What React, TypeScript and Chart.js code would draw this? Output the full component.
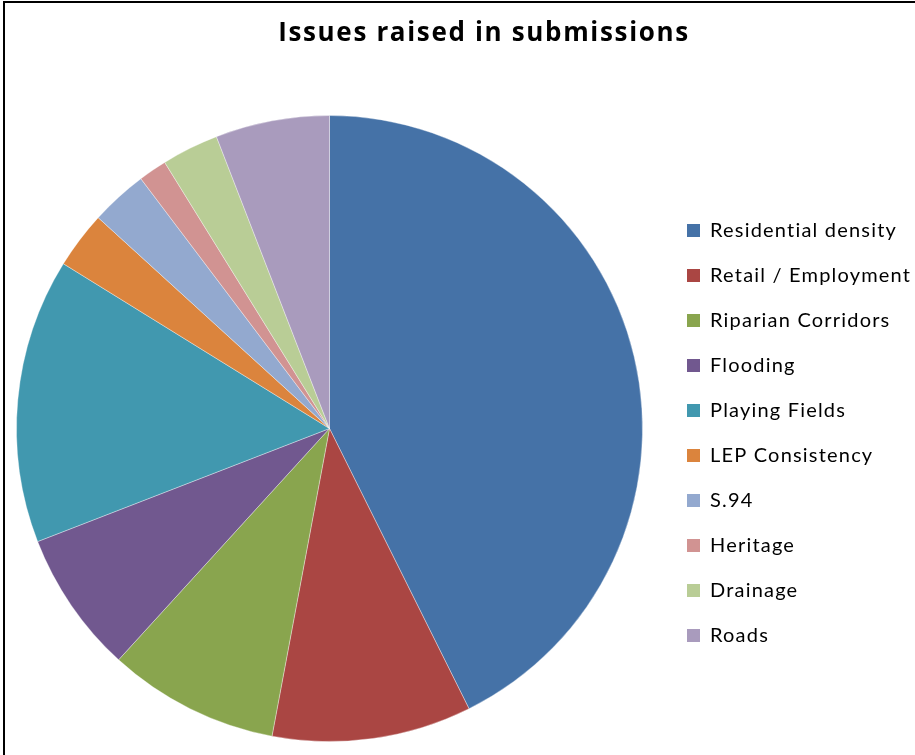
import React, { useEffect, useRef } from 'react';
import { Chart, registerables } from 'chart.js';

Chart.register(...registerables);

const TITLE = 'Issues raised in submissions';
const categories = [
  'Residential density',
  'Retail / Employment',
  'Riparian Corridors',
  'Flooding',
  'Playing Fields',
  'LEP Consistency',
  'S.94',
  'Heritage',
  'Drainage',
  'Roads',
];
const submissionCounts = [29, 7, 6, 5, 10, 2, 2, 1, 2, 4];
const sliceColors = [
  '#4572A7',
  '#AA4643',
  '#89A54E',
  '#71588F',
  '#4198AF',
  '#DB843D',
  '#93A9CF',
  '#D19392',
  '#B9CD96',
  '#A99BBD',
];

const CANVAS_LEFT = -3;
const CANVAS_W = 974;
const CANVAS_H = 755;
const LEGEND_W = 309;
const TITLE_FONT = '"Open Sans", Lato, sans-serif';
const LEGEND_FONT = 'Lato, "Open Sans", sans-serif';
const TITLE_SIZE = 26;
const LEGEND_SIZE = 20;
const TITLE_TARGET_W = 410;
const LEGEND_REF_TEXT = 'Retail / Employment';
const LEGEND_TARGET_W = 200;

function spacingFor(text: string, font: string, target: number): number {
  const c = document.createElement('canvas').getContext('2d');
  if (!c) return 0;
  c.font = font;
  const w = c.measureText(text).width;
  return Math.max(0, (target - w) / Math.max(1, text.length - 1));
}

export default function App() {
  const ref = useRef<HTMLCanvasElement>(null);

  useEffect(() => {
    let chart: Chart | null = null;
    let cancelled = false;

    const withSpacing = (obj: any, spacing: number) => {
      if (!obj || !obj.draw) return;
      const orig = obj.draw;
      obj.draw = function (...args: any[]) {
        const ctx = this.ctx;
        const prev = ctx.letterSpacing;
        ctx.letterSpacing = spacing + 'px';
        try {
          orig.apply(this, args);
        } finally {
          ctx.letterSpacing = prev || '0px';
        }
      };
    };

    const build = () => {
      if (cancelled || !ref.current) return;
      const titleSpacing = spacingFor(TITLE, `bold ${TITLE_SIZE}px ${TITLE_FONT}`, TITLE_TARGET_W);
      const legendSpacing = spacingFor(LEGEND_REF_TEXT, `${LEGEND_SIZE}px ${LEGEND_FONT}`, LEGEND_TARGET_W);

      const layoutPlugin = {
        id: 'fixedLegendWidth',
        beforeInit(c: any) {
          const legend = c.legend;
          if (legend) {
            const orig = legend.fit;
            legend.fit = function () {
              orig.call(this);
              this.width = LEGEND_W;
            };
            withSpacing(legend, legendSpacing);
          }
          withSpacing(c.titleBlock, titleSpacing);
        },
      };
      const baseGen =
        ((Chart as any).overrides?.pie?.plugins?.legend?.labels?.generateLabels) ||
        ((Chart as any).overrides?.doughnut?.plugins?.legend?.labels?.generateLabels);

      chart = new Chart(ref.current, {
        type: 'pie',
        data: {
          labels: categories,
          datasets: [
            {
              data: submissionCounts,
              backgroundColor: sliceColors,
              borderColor: 'rgba(255,255,255,0.35)',
              borderWidth: 1,
            },
          ],
        },
        options: {
          responsive: false,
          animation: false,
          layout: { padding: { top: 0, left: 0, right: 0, bottom: 13 } },
          plugins: {
            title: {
              display: true,
              text: TITLE,
              color: '#000',
              font: { family: TITLE_FONT, size: TITLE_SIZE, weight: 'bold', lineHeight: 1.2 },
              padding: { top: 18, bottom: 65.8 },
            },
            legend: {
              position: 'right',
              align: 'center',
              fullSize: false,
              title: {
                display: true,
                text: ' ',
                font: { size: 1, lineHeight: 1 },
                padding: { top: 8, bottom: 0 },
              },
              labels: {
                boxWidth: 13,
                boxHeight: 13,
                padding: 25,
                color: '#000',
                font: { family: LEGEND_FONT, size: LEGEND_SIZE },
                generateLabels: (c: any) => {
                  const items = baseGen ? baseGen(c) : [];
                  return items.map((i: any) => ({ ...i, lineWidth: 0, strokeStyle: 'rgba(0,0,0,0)' }));
                },
              },
            },
            tooltip: { enabled: false },
          },
        } as any,
        plugins: [layoutPlugin as any],
      });
    };

    const fontsReady = (document as any).fonts
      ? Promise.all([
          (document as any).fonts.load(`bold ${TITLE_SIZE}px "Open Sans"`),
          (document as any).fonts.load(`${LEGEND_SIZE}px Lato`),
        ]).catch(() => null)
      : Promise.resolve(null);
    fontsReady.then(build);

    return () => {
      cancelled = true;
      if (chart) chart.destroy();
    };
  }, []);

  return (
    <div
      style={{
        position: 'absolute',
        left: 0,
        top: 0,
        width: 915,
        height: 755,
        overflow: 'hidden',
        background: '#fff',
      }}
    >
      <canvas
        ref={ref}
        width={CANVAS_W}
        height={CANVAS_H}
        style={{ position: 'absolute', left: CANVAS_LEFT, top: 0, width: CANVAS_W, height: CANVAS_H }}
      />
      <div
        style={{
          position: 'absolute',
          left: 3,
          top: 1,
          width: 915,
          height: 760,
          borderTop: '2px solid #000',
          borderLeft: '2px solid #000',
          pointerEvents: 'none',
        }}
      />
    </div>
  );
}
